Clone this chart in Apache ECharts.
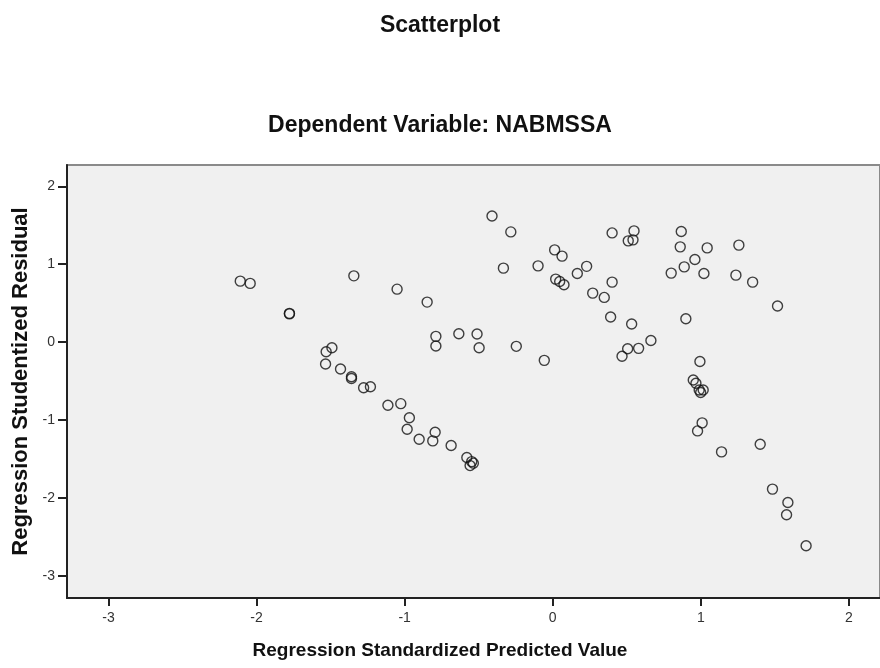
<!DOCTYPE html>
<html>
<head>
<meta charset="utf-8">
<script src="https://cdn.jsdelivr.net/npm/echarts@6/dist/echarts.min.js"></script>
<style>html,body{margin:0;padding:0;background:#fff}#c{width:880px;height:668px}</style>
</head>
<body>
<div id="c"></div>
<script>
var predicted = [-2.110,-2.043,-1.778,-1.778,-1.343,-1.051,-0.848,-1.491,-1.530,-1.534,-1.433,-1.359,-1.359,-1.277,-1.231,-1.113,-1.026,-0.968,-0.983,-0.902,-0.794,-0.810,-0.686,-0.580,-0.547,-0.558,-0.536,-0.410,-0.283,-0.333,-0.099,0.013,0.063,0.020,0.047,0.076,0.166,0.229,0.270,0.348,0.401,0.401,0.391,-0.789,-0.789,-0.634,-0.511,-0.497,-0.246,-0.057,0.549,0.510,0.542,0.868,0.861,1.043,1.257,0.960,0.888,0.800,1.021,1.237,1.350,1.518,0.899,0.533,0.663,0.506,0.580,0.468,0.994,0.949,0.967,0.989,1.016,0.999,1.009,0.978,1.140,1.401,1.484,1.588,1.579,1.711];
var residual = [0.782,0.753,0.368,0.362,0.850,0.679,0.513,-0.073,-0.124,-0.282,-0.346,-0.445,-0.468,-0.586,-0.573,-0.812,-0.791,-0.971,-1.119,-1.247,-1.158,-1.269,-1.329,-1.483,-1.535,-1.586,-1.555,1.619,1.414,0.949,0.978,1.183,1.103,0.808,0.778,0.735,0.881,0.972,0.628,0.573,1.401,0.769,0.321,0.073,-0.051,0.106,0.103,-0.073,-0.055,-0.235,1.427,1.299,1.312,1.419,1.222,1.209,1.244,1.060,0.965,0.885,0.881,0.859,0.769,0.462,0.299,0.231,0.019,-0.086,-0.081,-0.183,-0.250,-0.487,-0.529,-0.615,-0.615,-0.647,-1.038,-1.141,-1.410,-1.312,-1.888,-2.060,-2.218,-2.615];
var xTicks = [-3,-2,-1,0,1,2];
var yTicks = [-3,-2,-1,0,1,2];

var points = predicted.map(function(x,i){return [x, residual[i]];});
var FONT = 'Liberation Sans, Arial, sans-serif';
var chart = echarts.init(document.getElementById('c'), null, {renderer:'canvas'});
chart.setOption({
  animation:false,
  backgroundColor:'#ffffff',
  title:[
    {text:'Scatterplot', left:'center', top:9, textStyle:{fontFamily:FONT, fontSize:23, fontWeight:'bold', color:'#111'}},
    {text:'Dependent Variable: NABMSSA', left:'center', top:109, textStyle:{fontFamily:FONT, fontSize:23, fontWeight:'bold', color:'#111'}},
    {text:'Regression Standardized Predicted Value', left:'center', top:636, textStyle:{fontFamily:FONT, fontSize:19, fontWeight:'bold', color:'#111'}}
  ],
  grid:{left:67, top:165, right:-2, bottom:70, show:true, backgroundColor:'#f0f0f0', borderColor:'#8a8a8a', borderWidth:2},
  xAxis:{
    type:'value', min:-3.28, max:2.21,
    axisLine:{show:true, onZero:false, lineStyle:{color:'#222', width:2}},
    axisTick:{show:true, length:8, customValues:xTicks, lineStyle:{color:'#222', width:2}},
    axisLabel:{fontFamily:FONT, fontSize:14, color:'#333', margin:13,
      customValues:xTicks, formatter:function(v){return String(v);}},
    splitLine:{show:false}
  },
  yAxis:{
    type:'value', min:-3.286, max:2.273,
    name:'Regression Studentized Residual', nameLocation:'middle', nameGap:34, nameRotate:90,
    nameTextStyle:{fontFamily:FONT, fontSize:22, fontWeight:'bold', color:'#111'},
    axisLine:{show:true, onZero:false, lineStyle:{color:'#222', width:2}},
    axisTick:{show:true, length:9, customValues:yTicks, lineStyle:{color:'#222', width:2}},
    axisLabel:{fontFamily:FONT, fontSize:14, color:'#333', margin:12, padding:[5,0,0,0],
      customValues:yTicks, formatter:function(v){return String(v);}},
    splitLine:{show:false}
  },
  series:[{
    type:'scatter', data:points, symbol:'circle', symbolSize:10,
    itemStyle:{color:'rgba(0,0,0,0)', borderColor:'#111', borderWidth:1.4}
  }]
});
</script>
</body>
</html>
